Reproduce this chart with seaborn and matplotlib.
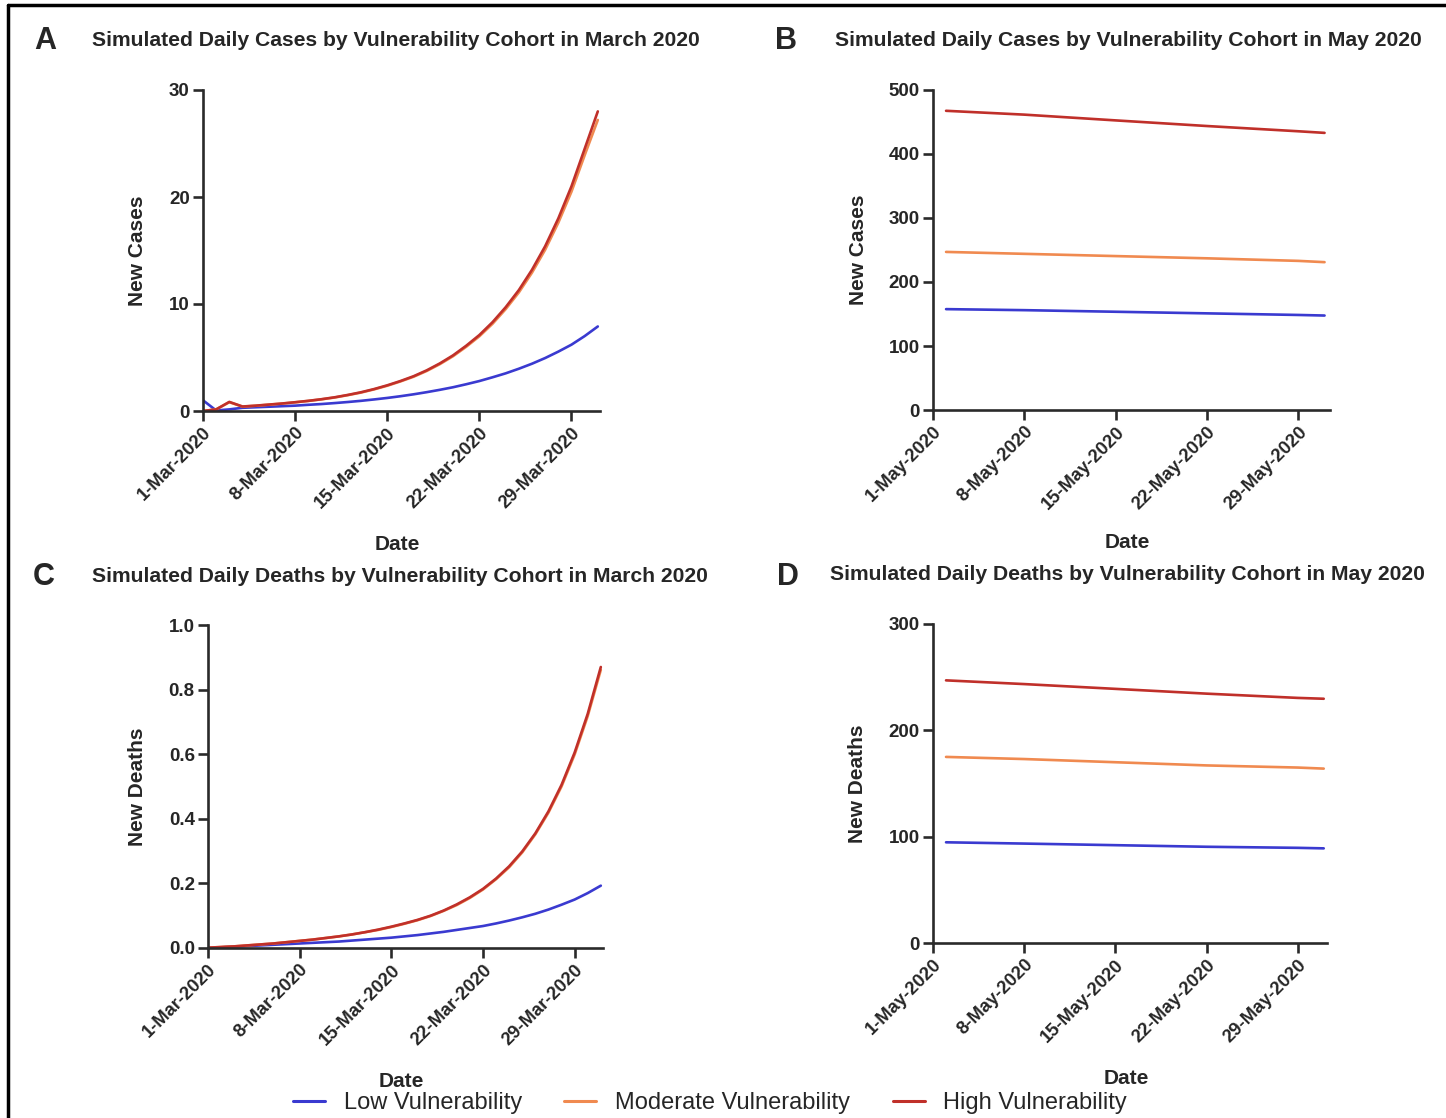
import numpy as np
import pandas as pd
import matplotlib
matplotlib.use("Agg")
import matplotlib.pyplot as plt
from matplotlib.lines import Line2D
import seaborn as sns

# ---------------- data ----------------
cohorts = ["Low Vulnerability", "Moderate Vulnerability", "High Vulnerability"]
colors = {"Low Vulnerability": "#3a3ad0",
          "Moderate Vulnerability": "#f08a50",
          "High Vulnerability": "#c0302a"}

march_dates = pd.date_range("2020-03-01", "2020-03-31", freq="D")
march_ticks = ["2020-03-01", "2020-03-08", "2020-03-15", "2020-03-22", "2020-03-29"]
march_tick_labels = ["1-Mar-2020", "8-Mar-2020", "15-Mar-2020", "22-Mar-2020", "29-Mar-2020"]

cases_mar_low = [1.0, 0.05, 0.15, 0.3, 0.35, 0.4, 0.45, 0.5, 0.58, 0.65, 0.74, 0.84, 0.95,
                 1.08, 1.22, 1.38, 1.56, 1.76, 1.98, 2.22, 2.5, 2.8, 3.15, 3.52, 3.95,
                 4.42, 4.95, 5.55, 6.2, 7.0, 7.9]
cases_mar_mod = [0.0, 0.15, 0.82, 0.41, 0.49, 0.59, 0.69, 0.81, 0.94, 1.09, 1.26, 1.48, 1.72,
                 2.02, 2.36, 2.76, 3.2, 3.74, 4.38, 5.12, 6.0, 6.98, 8.15, 9.52, 11.08,
                 12.93, 15.07, 17.6, 20.5, 23.9, 27.2]
cases_mar_high = [0.0, 0.15, 0.85, 0.42, 0.5, 0.6, 0.7, 0.82, 0.95, 1.1, 1.28, 1.5, 1.75,
                  2.05, 2.4, 2.8, 3.25, 3.8, 4.45, 5.2, 6.1, 7.1, 8.3, 9.7, 11.3,
                  13.2, 15.4, 18.0, 21.0, 24.5, 28.0]

deaths_mar_low = [0.0, 0.002, 0.004, 0.006, 0.008, 0.01, 0.012, 0.014, 0.016, 0.018, 0.02,
                  0.023, 0.026, 0.029, 0.032, 0.036, 0.04, 0.045, 0.05, 0.056, 0.062,
                  0.068, 0.076, 0.085, 0.095, 0.106, 0.119, 0.134, 0.15, 0.17, 0.193]
deaths_mar_mod = [0.001, 0.003, 0.005, 0.008, 0.011, 0.014, 0.018, 0.022, 0.026, 0.031, 0.036,
                  0.042, 0.049, 0.056, 0.065, 0.075, 0.086, 0.099, 0.115, 0.133, 0.155,
                  0.181, 0.213, 0.25, 0.296, 0.352, 0.419, 0.5, 0.599, 0.718, 0.861]
deaths_mar_high = [0.001, 0.003, 0.005, 0.008, 0.011, 0.014, 0.018, 0.022, 0.026, 0.031, 0.036,
                   0.042, 0.049, 0.057, 0.066, 0.076, 0.087, 0.1, 0.116, 0.135, 0.157,
                   0.183, 0.215, 0.253, 0.299, 0.355, 0.423, 0.505, 0.605, 0.725, 0.87]

may_dates = pd.to_datetime(["2020-05-02", "2020-05-08", "2020-05-15", "2020-05-22",
                            "2020-05-29", "2020-05-31"])
may_ticks = ["2020-05-01", "2020-05-08", "2020-05-15", "2020-05-22", "2020-05-29"]
may_tick_labels = ["1-May-2020", "8-May-2020", "15-May-2020", "22-May-2020", "29-May-2020"]

cases_may_low = [157.6, 156.0, 153.5, 151.0, 148.5, 147.6]
cases_may_mod = [247.0, 244.0, 240.5, 237.0, 233.0, 231.0]
cases_may_high = [467.5, 461.5, 452.5, 443.7, 435.5, 433.0]

deaths_may_low = [94.7, 93.5, 92.0, 90.5, 89.5, 89.0]
deaths_may_mod = [175.0, 173.0, 170.0, 167.0, 165.0, 164.0]
deaths_may_high = [247.0, 243.5, 239.0, 234.5, 230.5, 229.7]


def long_df(dates, low, mod, high):
    frames = []
    for name, vals in zip(cohorts, [low, mod, high]):
        frames.append(pd.DataFrame({"Date": dates, "Value": vals, "Cohort": name}))
    return pd.concat(frames, ignore_index=True)


# ---------------- style ----------------
sns.set_theme(style="ticks")
plt.rcParams["font.family"] = ["Liberation Sans", "DejaVu Sans"]
plt.rcParams["axes.edgecolor"] = "#2a2a2a"
plt.rcParams["axes.linewidth"] = 1.9

W, H = 1446, 1118
fig = plt.figure(figsize=(W / 100, H / 100), dpi=100)


def fx(px):
    return px / W


def fy(py):
    return 1 - py / H


panels = [
    dict(letter="A", title="Simulated Daily Cases by Vulnerability Cohort in March 2020",
         box=(203, 600, 411, 90), df=long_df(march_dates, cases_mar_low, cases_mar_mod, cases_mar_high),
         ylabel="New Cases", ylim=(0, 30), yticks=[0, 10, 20, 30], yfmt="{:.0f}",
         ticks=march_ticks, labels=march_tick_labels,
         xlim=("2020-03-01", "2020-03-31 04:00"), lpos=(45, 41), tpos=(92, 41),
         ylab_x=-0.141, xlab_y=-0.385),
    dict(letter="B", title="Simulated Daily Cases by Vulnerability Cohort in May 2020",
         box=(933, 1330, 410, 90), df=long_df(may_dates, cases_may_low, cases_may_mod, cases_may_high),
         ylabel="New Cases", ylim=(0, 500), yticks=[0, 100, 200, 300, 400, 500], yfmt="{:.0f}",
         ticks=may_ticks, labels=may_tick_labels,
         xlim=("2020-05-01", "2020-05-31 10:00"), lpos=(786, 41), tpos=(835, 41),
         ylab_x=-0.164, xlab_y=-0.385),
    dict(letter="C", title="Simulated Daily Deaths by Vulnerability Cohort in March 2020",
         box=(208, 603, 948, 625), df=long_df(march_dates, deaths_mar_low, deaths_mar_mod, deaths_mar_high),
         ylabel="New Deaths", ylim=(0, 1.0), yticks=[0, 0.2, 0.4, 0.6, 0.8, 1.0], yfmt="{:.1f}",
         ticks=march_ticks, labels=march_tick_labels,
         xlim=("2020-03-01", "2020-03-31 04:00"), lpos=(44, 577), tpos=(92, 576),
         ylab_x=-0.154, xlab_y=-0.383),
    dict(letter="D", title="Simulated Daily Deaths by Vulnerability Cohort in May 2020",
         box=(933, 1327, 943, 624), df=long_df(may_dates, deaths_may_low, deaths_may_mod, deaths_may_high),
         ylabel="New Deaths", ylim=(0, 300), yticks=[0, 100, 200, 300], yfmt="{:.0f}",
         ticks=may_ticks, labels=may_tick_labels,
         xlim=("2020-05-01", "2020-05-31 06:00"), lpos=(788, 577), tpos=(830, 575),
         ylab_x=-0.168, xlab_y=-0.395),
]

for p in panels:
    l, r, b, t = p["box"]
    ax = fig.add_axes([fx(l), fy(b), (r - l) / W, (b - t) / H])
    sns.lineplot(data=p["df"], x="Date", y="Value", hue="Cohort", hue_order=cohorts,
                 palette=colors, linewidth=1.9, ax=ax, legend=False, estimator=None)
    sns.despine(ax=ax)
    ax.set_ylim(*p["ylim"])
    ax.set_xlim(pd.Timestamp(p["xlim"][0]), pd.Timestamp(p["xlim"][1]))
    ax.set_yticks(p["yticks"])
    ax.set_yticklabels([p["yfmt"].format(v) for v in p["yticks"]], fontsize=13.5, fontweight="bold")
    ax.set_xticks(pd.to_datetime(p["ticks"]))
    ax.set_xticklabels(p["labels"], rotation=45, ha="right", rotation_mode="anchor",
                       fontsize=13.2, fontweight="bold")
    ax.tick_params(axis="both", length=7, width=1.9, color="#2a2a2a", pad=2.5)
    ax.set_xlabel("Date", fontsize=15, fontweight="bold")
    ax.set_ylabel(p["ylabel"], fontsize=15, fontweight="bold")
    ax.xaxis.set_label_coords(0.49, p["xlab_y"])
    ax.yaxis.set_label_coords(p["ylab_x"], 0.5)
    fig.text(fx(p["lpos"][0]), fy(p["lpos"][1]), p["letter"], fontsize=22, fontweight="bold",
             ha="center", va="center")
    fig.text(fx(p["tpos"][0]), fy(p["tpos"][1]), p["title"], fontsize=15.2, fontweight="bold",
             ha="left", va="center")

handles = [Line2D([0], [0], color=colors[c], lw=2.2) for c in cohorts]
fig.legend(handles, cohorts, loc="center", bbox_to_anchor=(fx(710), fy(1103)), ncol=3,
           frameon=False, fontsize=17, handlelength=1.35, handletextpad=0.8,
           columnspacing=1.8)

# outer frame (left and top edges)
fig.add_artist(Line2D([fx(8), fx(8)], [0, fy(5)], transform=fig.transFigure, color="black", lw=2.5))
fig.add_artist(Line2D([fx(8), 1], [fy(5), fy(5)], transform=fig.transFigure, color="black", lw=2.5))

fig.savefig("out.png", dpi=100, facecolor="white")
